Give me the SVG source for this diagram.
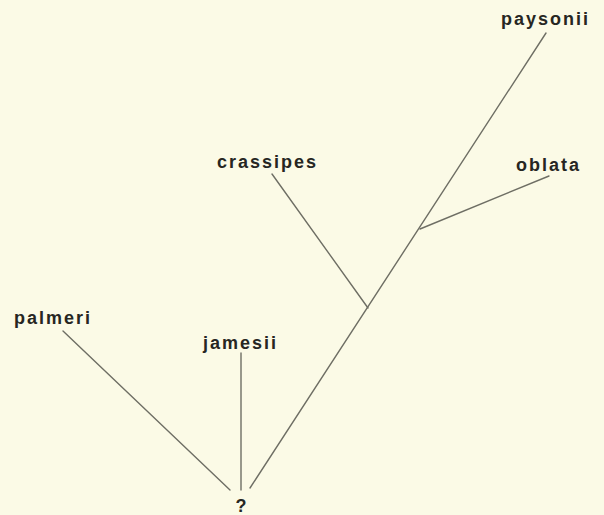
<svg xmlns="http://www.w3.org/2000/svg" width="604" height="515" viewBox="0 0 604 515">
<style>
.bg{fill:#fbfae6}
.lbl{font-family:"Liberation Sans",Arial,sans-serif;font-size:18px;font-weight:bold;fill:#262622;letter-spacing:2px}
.edge{stroke:#6e6e64;stroke-width:1.4;fill:none;stroke-linecap:round}
</style>
<rect class="bg" x="0" y="0" width="604" height="515"/>
<g id="connectors">
<line class="edge" x1="546" y1="33" x2="250" y2="488"/>
<line class="edge" x1="420" y1="229" x2="549" y2="176"/>
<line class="edge" x1="272" y1="174" x2="368" y2="308"/>
<line class="edge" x1="63" y1="331" x2="230" y2="490"/>
<line class="edge" x1="241" y1="353" x2="241" y2="490"/>
</g>
<g id="paysonii"><text class="lbl" x="501" y="25">paysonii</text></g>
<g id="oblata"><text class="lbl" x="516" y="171">oblata</text></g>
<g id="crassipes"><text class="lbl" x="217" y="168">crassipes</text></g>
<g id="palmeri"><text class="lbl" x="14" y="324">palmeri</text></g>
<g id="jamesii"><text class="lbl" x="203" y="349">jamesii</text></g>
<g id="root"><text class="lbl" x="241" y="512" text-anchor="middle" style="letter-spacing:0">?</text></g>
</svg>
